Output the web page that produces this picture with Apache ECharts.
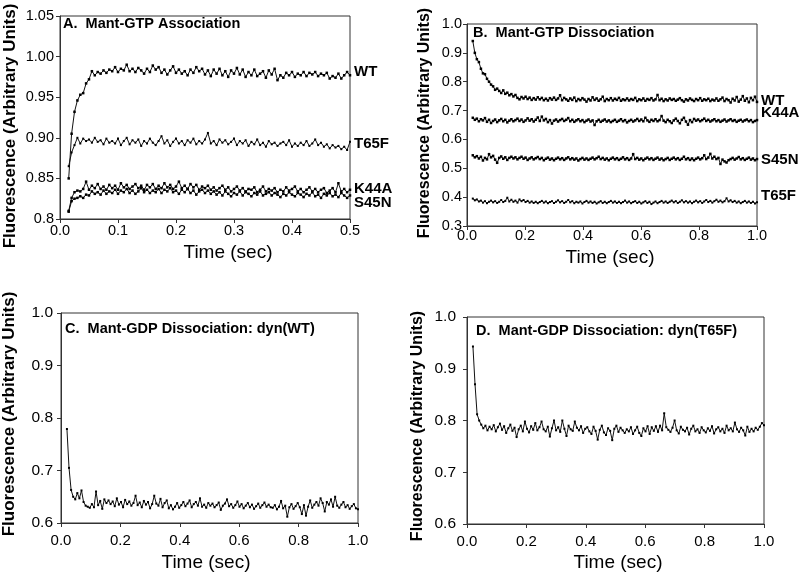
<!DOCTYPE html>
<html>
<head>
<meta charset="utf-8">
<script src="https://cdn.jsdelivr.net/npm/echarts@6/dist/echarts.min.js"></script>
<style>html,body{margin:0;padding:0;background:#fff}#c{width:800px;height:579px}</style>
</head>
<body>
<div id="c"></div>
<script>
// ---------- Panel A: Mant-GTP Association (t0 = 0.015 s, dt = 0.005 s) ----------
const aStart = 0.015, aStep = 0.005;
const aWT = [0.850,0.905,0.932,0.946,0.953,0.955,0.967,0.972,0.982,0.977,
0.981,0.979,0.983,0.980,0.984,0.982,0.987,0.981,0.985,0.983,
0.990,0.982,0.985,0.981,0.986,0.983,0.979,0.985,0.981,0.989,
0.984,0.987,0.980,0.984,0.978,0.983,0.988,0.980,0.984,0.979,
0.982,0.977,0.984,0.980,0.987,0.982,0.985,0.978,0.983,0.976,
0.984,0.979,0.985,0.977,0.982,0.975,0.983,0.979,0.986,0.978,
0.984,0.975,0.981,0.977,0.984,0.976,0.979,0.982,0.974,0.983,
0.978,0.985,0.971,0.977,0.974,0.980,0.977,0.981,0.975,0.979,
0.977,0.981,0.976,0.980,0.978,0.981,0.976,0.979,0.977,0.980,
0.973,0.976,0.974,0.979,0.973,0.977,0.981,0.977];
const aT65F = [0.865,0.882,0.891,0.900,0.893,0.899,0.896,0.898,0.894,0.900,
0.895,0.897,0.892,0.899,0.894,0.896,0.893,0.899,0.891,0.896,
0.900,0.892,0.897,0.894,0.898,0.890,0.896,0.893,0.899,0.894,
0.891,0.896,0.902,0.893,0.897,0.890,0.895,0.899,0.893,0.896,
0.891,0.897,0.894,0.899,0.892,0.896,0.893,0.898,0.906,0.893,
0.896,0.891,0.898,0.894,0.897,0.892,0.895,0.899,0.891,0.896,
0.893,0.897,0.890,0.895,0.892,0.898,0.891,0.894,0.889,0.896,
0.892,0.894,0.890,0.893,0.895,0.891,0.897,0.889,0.893,0.890,
0.894,0.891,0.896,0.890,0.893,0.898,0.891,0.894,0.889,0.892,
0.887,0.891,0.888,0.890,0.886,0.889,0.885,0.895];
const aK44A = [0.810,0.826,0.833,0.835,0.834,0.837,0.846,0.836,0.841,0.838,
0.843,0.837,0.840,0.836,0.842,0.838,0.841,0.836,0.844,0.839,
0.842,0.837,0.840,0.843,0.838,0.841,0.836,0.842,0.839,0.843,
0.837,0.841,0.838,0.844,0.839,0.842,0.837,0.840,0.846,0.838,
0.841,0.837,0.843,0.839,0.842,0.836,0.840,0.838,0.841,0.836,
0.839,0.835,0.838,0.841,0.836,0.839,0.834,0.837,0.840,0.835,
0.838,0.834,0.837,0.836,0.839,0.833,0.836,0.840,0.834,0.837,
0.835,0.838,0.833,0.836,0.834,0.839,0.835,0.837,0.840,0.834,
0.837,0.833,0.836,0.839,0.834,0.837,0.833,0.836,0.838,0.832,
0.835,0.838,0.833,0.844,0.834,0.837,0.833,0.836];
const aS45N = [0.809,0.822,0.825,0.826,0.828,0.826,0.830,0.829,0.834,0.831,
0.833,0.830,0.835,0.831,0.834,0.832,0.836,0.831,0.835,0.833,
0.837,0.832,0.835,0.831,0.834,0.838,0.833,0.836,0.832,0.835,
0.833,0.837,0.832,0.836,0.834,0.838,0.833,0.835,0.831,0.836,
0.833,0.837,0.832,0.835,0.830,0.834,0.836,0.832,0.835,0.831,
0.834,0.830,0.833,0.829,0.834,0.831,0.828,0.832,0.830,0.834,
0.829,0.833,0.831,0.828,0.832,0.830,0.834,0.829,0.831,0.833,
0.829,0.832,0.830,0.827,0.831,0.829,0.833,0.830,0.828,0.832,
0.830,0.827,0.831,0.829,0.833,0.828,0.830,0.826,0.831,0.829,
0.832,0.828,0.830,0.827,0.832,0.829,0.826,0.829];
const aXTicks = ['0.0','0.1','0.2','0.3','0.4','0.5'];
const aYTicks = ['0.8','0.85','0.90','0.95','1.00','1.05'];

// ---------- Panel B: Mant-GTP Dissociation (t0 = 0.02 s, dt = 0.007 s) ----------
const bStart = 0.02, bStep = 0.007;
const bWT = [0.941,0.900,0.878,0.868,0.845,0.829,0.826,0.810,0.800,0.790,
0.784,0.772,0.776,0.768,0.761,0.770,0.758,0.762,0.753,0.757,
0.749,0.754,0.744,0.739,0.747,0.742,
0.748,0.740,0.745,0.737,0.743,0.738,0.746,0.739,0.744,0.736,
0.741,0.735,0.743,0.738,0.745,0.737,0.742,0.753,0.736,0.744,
0.739,0.734,0.742,0.737,0.745,0.733,0.740,0.736,0.743,0.738,
0.731,0.740,0.735,0.746,0.737,0.742,0.734,0.739,0.748,0.733,
0.740,0.736,0.743,0.735,0.741,0.737,0.744,0.734,0.739,0.736,
0.742,0.735,0.740,0.737,0.744,0.733,0.739,0.736,0.742,0.734,
0.740,0.737,0.743,0.735,0.739,0.754,0.736,0.741,0.733,0.739,
0.735,0.742,0.737,0.740,0.734,0.738,0.743,0.736,0.731,0.739,
0.735,0.742,0.737,0.733,0.740,0.736,0.743,0.734,0.739,0.736,
0.741,0.733,0.738,0.735,0.742,0.734,0.739,0.745,0.733,0.740,
0.736,0.728,0.741,0.735,0.747,0.731,0.738,0.750,0.734,0.742,
0.729,0.744,0.736,0.748,0.730];
const bK44A = [0.675,0.668,0.672,0.663,0.670,0.666,0.674,0.661,0.668,0.657,
0.664,0.669,0.660,0.666,0.671,0.663,0.668,0.659,0.665,0.670,
0.663,0.667,0.672,0.664,0.669,0.661,0.666,0.673,0.665,0.670,
0.662,0.668,0.676,0.664,0.679,0.666,0.671,0.660,0.667,0.655,
0.665,0.669,0.662,0.667,0.671,0.664,0.668,0.674,0.663,0.668,
0.661,0.666,0.670,0.663,0.667,0.660,0.665,0.669,0.662,0.666,
0.650,0.663,0.668,0.661,0.665,0.669,0.662,0.666,0.660,0.664,
0.668,0.661,0.665,0.670,0.663,0.667,0.659,0.664,0.668,0.662,
0.666,0.671,0.664,0.669,0.663,0.675,0.666,0.661,0.668,0.664,
0.670,0.663,0.667,0.681,0.665,0.660,0.668,0.663,0.657,0.666,
0.672,0.664,0.656,0.668,0.675,0.662,0.651,0.667,0.660,0.671,
0.665,0.669,0.663,0.667,0.672,0.664,0.668,0.662,0.666,0.670,
0.663,0.667,0.661,0.665,0.669,0.662,0.666,0.670,0.664,0.667,
0.661,0.665,0.668,0.662,0.666,0.669,0.663,0.667,0.660,0.664,
0.667];
const bS45N = [0.545,0.538,0.542,0.534,0.540,0.527,0.536,0.531,0.549,0.538,
0.543,0.530,0.519,0.536,0.541,0.533,0.538,0.529,0.536,0.540,
0.534,0.538,0.531,0.536,0.540,0.533,0.537,0.529,0.534,0.538,
0.531,0.535,0.539,0.532,0.536,0.528,0.533,0.537,0.530,0.534,
0.528,0.533,0.537,0.531,0.535,0.529,0.534,0.538,0.531,0.535,
0.530,0.534,0.527,0.532,0.536,0.530,0.534,0.529,0.533,0.537,
0.531,0.535,0.540,0.532,0.536,0.530,0.534,0.528,0.533,0.537,
0.531,0.535,0.529,0.533,0.538,0.531,0.535,0.529,0.534,0.549,
0.532,0.536,0.530,0.534,0.528,0.533,0.537,0.531,0.535,0.529,
0.533,0.537,0.530,0.534,0.528,0.532,0.536,0.529,0.533,0.537,
0.531,0.535,0.529,0.533,0.540,0.531,0.535,0.529,0.534,0.528,
0.533,0.537,0.531,0.535,0.545,0.532,0.537,0.550,0.534,0.540,
0.532,0.536,0.515,0.530,0.524,0.520,0.528,0.532,0.536,0.530,
0.534,0.539,0.531,0.535,0.529,0.533,0.537,0.530,0.534,0.528,
0.532];
const bT65F = [0.395,0.389,0.392,0.385,0.388,0.381,0.386,0.379,0.384,0.388,
0.382,0.386,0.380,0.384,0.390,0.383,0.387,0.398,0.385,0.391,
0.384,0.388,0.381,0.392,0.386,0.390,0.383,0.387,0.381,0.385,
0.380,0.384,0.379,0.383,0.387,0.381,0.385,0.379,0.383,0.386,
0.380,0.384,0.389,0.382,0.386,0.380,0.384,0.390,0.382,0.386,
0.379,0.384,0.381,0.385,0.378,0.383,0.387,0.381,0.385,0.380,
0.384,0.378,0.382,0.386,0.380,0.384,0.379,0.383,0.387,0.381,
0.385,0.380,0.384,0.379,0.383,0.388,0.381,0.385,0.379,0.383,
0.386,0.380,0.384,0.378,0.382,0.386,0.380,0.384,0.376,0.381,
0.385,0.379,0.383,0.387,0.381,0.385,0.380,0.384,0.388,0.382,
0.386,0.380,0.384,0.389,0.382,0.386,0.381,0.385,0.379,0.384,
0.388,0.382,0.386,0.380,0.385,0.390,0.383,0.387,0.381,0.386,
0.391,0.384,0.388,0.382,0.386,0.396,0.385,0.389,0.383,0.387,
0.381,0.385,0.379,0.383,0.387,0.381,0.385,0.380,0.384,0.378,
0.382];
const bXTicks = ['0.0','0.2','0.4','0.6','0.8','1.0'];
const bYTicks = ['0.3','0.4','0.5','0.6','0.7','0.8','0.9','1.0'];

// ---------- Panel C: Mant-GDP Dissociation dyn(WT) (t0 = 0.02 s, dt = 0.007 s) ----------
const cStart = 0.02, cStep = 0.007;
const cWT = [0.779,0.705,0.663,0.650,0.645,0.657,0.647,0.662,0.640,0.633,
0.631,0.629,0.636,0.630,0.660,0.634,0.642,0.627,0.645,0.638,
0.643,0.636,0.641,0.632,0.647,0.635,0.640,0.630,0.644,0.636,
0.641,0.633,0.638,0.652,0.634,0.639,0.630,0.642,0.635,0.640,
0.628,0.636,0.652,0.637,0.633,0.646,0.630,0.638,0.643,0.628,
0.634,0.626,0.631,0.638,0.629,0.634,0.640,0.632,0.637,0.643,
0.630,0.636,0.640,0.633,0.647,0.631,0.635,0.629,0.638,0.633,
0.637,0.630,0.634,0.639,0.625,0.633,0.637,0.645,0.632,0.636,
0.629,0.634,0.641,0.631,0.636,0.628,0.633,0.638,0.630,0.635,
0.627,0.632,0.637,0.629,0.634,0.639,0.631,0.635,0.630,0.629,
0.634,0.626,0.631,0.642,0.628,0.633,0.612,0.630,0.636,0.627,
0.632,0.638,0.630,0.617,0.634,0.614,0.631,0.643,0.629,0.635,
0.640,0.633,0.647,0.638,0.622,0.640,0.635,0.645,0.631,0.650,
0.633,0.629,0.635,0.640,0.630,0.634,0.627,0.632,0.636,0.628,
0.626];
const cXTicks = ['0.0','0.2','0.4','0.6','0.8','1.0'];
const cYTicks = ['0.6','0.7','0.8','0.9','1.0'];

// ---------- Panel D: Mant-GDP Dissociation dyn(T65F) (t0 = 0.02 s, dt = 0.007 s) ----------
const dStart = 0.02, dStep = 0.007;
const dT65F = [0.943,0.870,0.812,0.800,0.792,0.785,0.790,0.781,0.788,0.783,
0.791,0.779,0.787,0.794,0.782,0.789,0.776,0.785,0.792,0.780,
0.786,0.768,0.783,0.790,0.779,0.798,0.784,0.777,0.789,0.782,
0.795,0.781,0.787,0.798,0.783,0.779,0.788,0.769,0.785,0.800,
0.781,0.787,0.778,0.800,0.784,0.770,0.790,0.783,0.780,0.798,
0.786,0.781,0.789,0.776,0.784,0.787,0.779,0.774,0.788,0.780,
0.763,0.782,0.790,0.777,0.772,0.785,0.780,0.762,0.784,0.790,
0.778,0.786,0.781,0.776,0.783,0.779,0.787,0.774,0.781,0.788,
0.776,0.770,0.785,0.779,0.789,0.774,0.787,0.780,0.789,0.778,
0.790,0.781,0.814,0.787,0.782,0.778,0.786,0.800,0.781,0.775,
0.788,0.782,0.779,0.786,0.773,0.784,0.790,0.779,0.783,0.776,
0.787,0.781,0.777,0.785,0.780,0.789,0.775,0.783,0.787,0.779,
0.784,0.776,0.790,0.781,0.785,0.779,0.796,0.783,0.778,0.786,
0.781,0.771,0.788,0.778,0.784,0.779,0.786,0.782,0.788,0.795,
0.791];
const dXTicks = ['0.0','0.2','0.4','0.6','0.8','1.0'];
const dYTicks = ['0.6','0.7','0.8','0.9','1.0'];

// ---------- build ----------
const FONT = "'Liberation Sans', Arial, Helvetica, sans-serif";
function pairs(t0, dt, vals) { return vals.map((v, i) => [+(t0 + i * dt).toFixed(4), v]); }
function tickFmt(ticks, min, interval) {
  return function (v) { const k = Math.round((v - min) / interval); return ticks[k] !== undefined ? ticks[k] : ''; };
}

const grids = [
  { left: 60, top: 16, width: 290, height: 203 },
  { left: 467, top: 24, width: 290, height: 202 },
  { left: 61, top: 313, width: 297, height: 210 },
  { left: 467, top: 317, width: 297, height: 207 }
].map(g => Object.assign(g, { show: true, borderColor: '#333', borderWidth: 1, containLabel: false }));

function xAxis(idx, max, interval, ticks, fs, margin) {
  return {
    type: 'value', gridIndex: idx, min: 0, max: max, interval: interval,
    axisLine: { show: true, onZero: false, lineStyle: { color: '#333', width: 1 } },
    axisTick: { show: true, inside: false, length: 4, lineStyle: { color: '#333' } },
    splitLine: { show: false },
    axisLabel: { color: '#000', fontFamily: FONT, fontSize: fs, margin: margin, formatter: tickFmt(ticks, 0, interval) }
  };
}
function yAxis(idx, min, max, interval, ticks, fs, margin) {
  return {
    type: 'value', gridIndex: idx, min: min, max: max, interval: interval,
    axisLine: { show: true, onZero: false, lineStyle: { color: '#333', width: 1 } },
    axisTick: { show: true, inside: false, length: 4, lineStyle: { color: '#333' } },
    splitLine: { show: false },
    axisLabel: { color: '#000', fontFamily: FONT, fontSize: fs, margin: margin, formatter: tickFmt(ticks, min, interval) }
  };
}
function line(name, idx, data, label, symSize) {
  return {
    name: name, type: 'line', xAxisIndex: idx, yAxisIndex: idx, data: data,
    symbol: 'rect', symbolSize: symSize, showSymbol: true,
    itemStyle: { color: '#000' }, lineStyle: { color: '#111', width: 1 },
    animation: false, silent: true, clip: false,
    endLabel: label ? { show: true, formatter: name, color: '#000', fontFamily: FONT, fontWeight: 'bold', fontSize: 15, distance: 4, offset: label } : { show: false }
  };
}

function txt(x, y, text, size, weight, rot, align) {
  return { type: 'text', x: x, y: y, rotation: rot || 0, silent: true,
    style: { text: text, fill: '#000', font: weight + ' ' + size + 'px ' + FONT, textAlign: align || 'center', textVerticalAlign: 'middle' } };
}

const option = {
  backgroundColor: '#fff',
  animation: false,
  grid: grids,
  xAxis: [
    xAxis(0, 0.5, 0.1, aXTicks, 14.5, 4),
    xAxis(1, 1.0, 0.2, bXTicks, 14.5, 2),
    xAxis(2, 1.0, 0.2, cXTicks, 15, 10),
    xAxis(3, 1.0, 0.2, dXTicks, 15, 10)
  ],
  yAxis: [
    yAxis(0, 0.8, 1.05, 0.05, aYTicks, 14.5, 6),
    yAxis(1, 0.3, 1.0, 0.1, bYTicks, 14.5, 5),
    yAxis(2, 0.6, 1.0, 0.1, cYTicks, 15.5, 8),
    yAxis(3, 0.6, 1.0, 0.1, dYTicks, 15.5, 11)
  ],
  series: [
    line('WT', 0, pairs(aStart, aStep, aWT), [0, -3], 2.5),
    line('T65F', 0, pairs(aStart, aStep, aT65F), [0, 2], 2),
    line('K44A', 0, pairs(aStart, aStep, aK44A), [0, -1], 2.5),
    line('S45N', 0, pairs(aStart, aStep, aS45N), [0, 7], 2.5),
    line('WT', 1, pairs(bStart, bStep, bWT), [0, -1], 2.5),
    line('K44A', 1, pairs(bStart, bStep, bK44A), [0, -7], 2.5),
    line('S45N', 1, pairs(bStart, bStep, bS45N), [0, 1], 2.5),
    line('T65F', 1, pairs(bStart, bStep, bT65F), [0, -6], 2),
    line('dyn(WT)', 2, pairs(cStart, cStep, cWT), null, 2),
    line('dyn(T65F)', 3, pairs(dStart, dStep, dT65F), null, 2)
  ],
  graphic: [
    txt(63, 24, 'A.  Mant-GTP Association', 14.5, 'bold', 0, 'left'),
    txt(473, 33, 'B.  Mant-GTP Dissociation', 14.5, 'bold', 0, 'left'),
    txt(65, 329, 'C.  Mant-GDP Dissociation: dyn(WT)', 14.5, 'bold', 0, 'left'),
    txt(476, 331, 'D.  Mant-GDP Dissociation: dyn(T65F)', 14.5, 'bold', 0, 'left'),
    txt(10, 126, 'Fluorescence (Arbitrary Units)', 17, 'bold', Math.PI / 2),
    txt(425, 123, 'Fluorescence (Arbitrary Units)', 16, 'bold', Math.PI / 2),
    txt(9, 414, 'Fluorescence (Arbitrary Units)', 17, 'bold', Math.PI / 2),
    txt(418, 426, 'Fluorescence (Arbitrary Units)', 16, 'bold', Math.PI / 2),
    txt(228, 253, 'Time (sec)', 19, 'normal'),
    txt(610, 258, 'Time (sec)', 19, 'normal'),
    txt(206, 563, 'Time (sec)', 19, 'normal'),
    txt(618, 563, 'Time (sec)', 19, 'normal')
  ]
};

const chart = echarts.init(document.getElementById('c'), null, { renderer: 'canvas' });
chart.setOption(option);
</script>
</body>
</html>
